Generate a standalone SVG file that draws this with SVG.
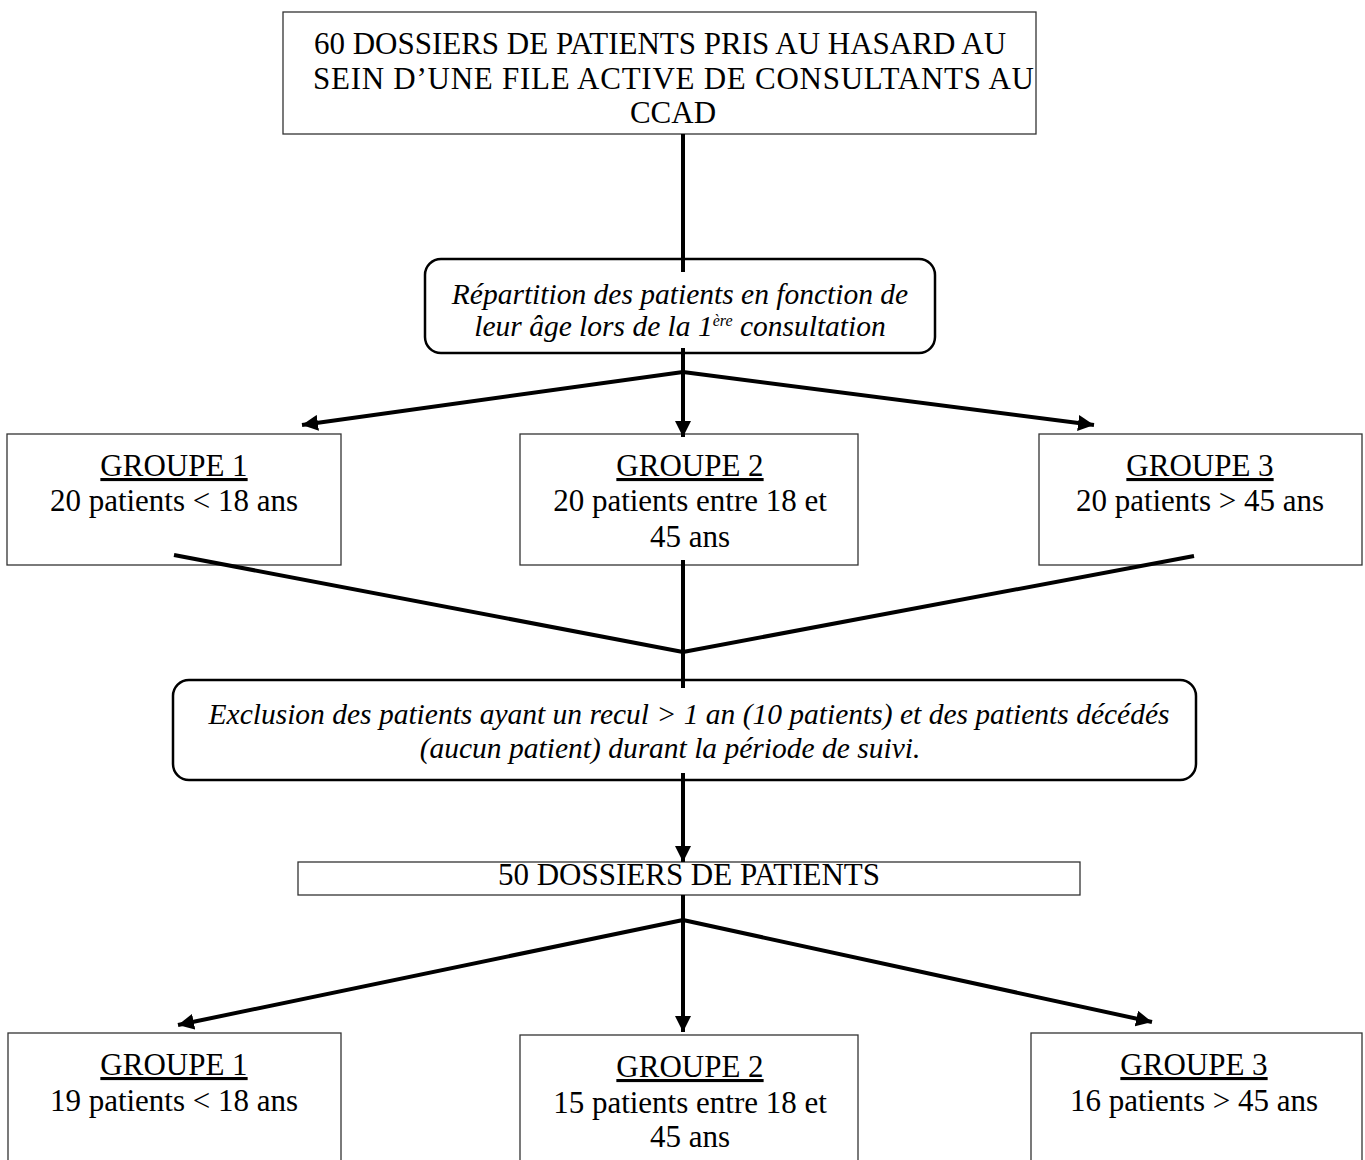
<svg xmlns="http://www.w3.org/2000/svg" width="1365" height="1160" viewBox="0 0 1365 1160">
<style>
.box{fill:#fff;stroke:#333;stroke-width:1.3}
.rbox{fill:#fff;stroke:#000;stroke-width:2.5}
.t{font-family:"Liberation Serif","Times New Roman",serif;font-size:31px;fill:#000;text-anchor:middle}
.i{font-family:"Liberation Serif","Times New Roman",serif;font-size:29.5px;font-style:italic;fill:#000;text-anchor:middle}
.u{text-decoration:underline}
.c{stroke:#000;stroke-width:4;fill:none}
</style>
<defs>
<marker id="ah" viewBox="0 0 10 10" refX="10" refY="5" markerWidth="4" markerHeight="4" orient="auto" markerUnits="strokeWidth">
<path d="M0,0 L10,5 L0,10 Z" fill="#000"/>
</marker>
</defs>
<g id="n1"><rect class="box" x="283" y="12" width="753" height="122"/>
<text class="t" x="660" y="54">60 DOSSIERS DE PATIENTS PRIS AU HASARD AU</text>
<text class="t" x="673.5" y="89" textLength="721" lengthAdjust="spacing">SEIN D’UNE FILE ACTIVE DE CONSULTANTS AU</text>
<text class="t" x="673" y="123">CCAD</text></g>
<g id="n2"><rect class="rbox" x="425" y="259" width="510" height="94" rx="16"/>
<text class="i" x="680" y="304">Répartition des patients en fonction de</text>
<text class="i" x="680" y="336">leur âge lors de la 1<tspan font-size="16" dy="-10">ère</tspan><tspan dy="10"> consultation</tspan></text></g>
<g id="g1a"><rect class="box" x="7" y="434" width="334" height="131"/>
<text class="t u" x="174" y="476">GROUPE 1</text>
<text class="t" x="174" y="511">20 patients &lt; 18 ans</text></g>
<g id="g2a"><rect class="box" x="520" y="434" width="338" height="131"/>
<text class="t u" x="690" y="476">GROUPE 2</text>
<text class="t" x="690" y="511">20 patients entre 18 et</text>
<text class="t" x="690" y="547">45 ans</text></g>
<g id="g3a"><rect class="box" x="1039" y="434" width="323" height="131"/>
<text class="t u" x="1200" y="476">GROUPE 3</text>
<text class="t" x="1200" y="511">20 patients &gt; 45 ans</text></g>
<g id="n3"><rect class="rbox" x="173" y="680" width="1023" height="100" rx="16"/>
<text class="i" x="689" y="724" font-size="30">Exclusion des  patients ayant un recul &gt; 1 an (10 patients) et des patients décédés</text>
<text class="i" x="670" y="758" font-size="30">(aucun patient) durant la période de suivi.</text></g>
<g id="n4"><rect class="box" x="298" y="862" width="782" height="33"/>
<text class="t" x="689" y="885">50 DOSSIERS DE PATIENTS</text></g>
<g id="g1b"><rect class="box" x="8" y="1033" width="333" height="135"/>
<text class="t u" x="174" y="1075">GROUPE 1</text>
<text class="t" x="174" y="1111">19 patients &lt; 18 ans</text></g>
<g id="g2b"><rect class="box" x="520" y="1035" width="338" height="135"/>
<text class="t u" x="690" y="1077">GROUPE 2</text>
<text class="t" x="690" y="1113">15 patients entre 18 et</text>
<text class="t" x="690" y="1147">45 ans</text></g>
<g id="g3b"><rect class="box" x="1031" y="1033" width="331" height="135"/>
<text class="t u" x="1194" y="1075">GROUPE 3</text>
<text class="t" x="1194" y="1111">16 patients &gt; 45 ans</text></g>
<g id="connectors">
<line class="c" x1="683" y1="134" x2="683" y2="272"/>
<line class="c" x1="683" y1="348" x2="683" y2="437" marker-end="url(#ah)"/>
<line class="c" x1="683" y1="372" x2="302" y2="425" marker-end="url(#ah)"/>
<line class="c" x1="683" y1="372" x2="1094" y2="425" marker-end="url(#ah)"/>
<line class="c" x1="174" y1="555" x2="683" y2="652"/>
<line class="c" x1="1194" y1="556" x2="683" y2="652"/>
<line class="c" x1="683" y1="560" x2="683" y2="688"/>
<line class="c" x1="683" y1="773" x2="683" y2="862" marker-end="url(#ah)"/>
<line class="c" x1="683" y1="895" x2="683" y2="1032" marker-end="url(#ah)"/>
<line class="c" x1="683" y1="920" x2="178" y2="1025" marker-end="url(#ah)"/>
<line class="c" x1="683" y1="920" x2="1152" y2="1022" marker-end="url(#ah)"/>
</g>
</svg>
